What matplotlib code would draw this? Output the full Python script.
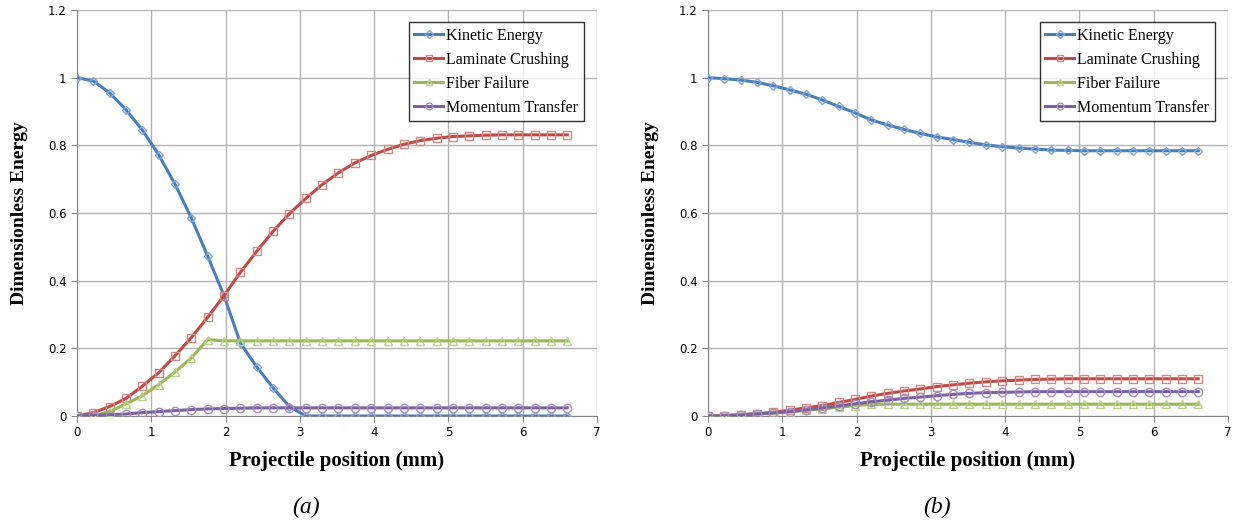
"""Two-panel dimensionless energy plot vs projectile position, (a) and (b)."""

import matplotlib

matplotlib.use("Agg")
import matplotlib.pyplot as plt  # noqa: E402
from matplotlib.ticker import FuncFormatter  # noqa: E402

# projectile positions (mm), 31 samples, 0.22 mm step
position = [0.0, 0.22, 0.44, 0.66, 0.88, 1.1, 1.32, 1.54, 1.76, 1.98, 2.2,
            2.42, 2.64, 2.86, 3.08, 3.3, 3.52, 3.74, 3.96, 4.18, 4.4,
            4.62, 4.84, 5.06, 5.28, 5.5, 5.72, 5.94, 6.16, 6.38, 6.6]

# panel (a)
ke_a = [1.0, 0.99, 0.955, 0.905, 0.845, 0.772, 0.685, 0.585, 0.472, 0.355, 0.215,
        0.145, 0.083, 0.028, 0.0, 0.0, 0.0, 0.0, 0.0, 0.0, 0.0,
        0.0, 0.0, 0.0, 0.0, 0.0, 0.0, 0.0, 0.0, 0.0, 0.0]
lc_a = [0.0, 0.01, 0.028, 0.052, 0.088, 0.128, 0.178, 0.232, 0.292, 0.356, 0.425,
        0.487, 0.546, 0.598, 0.643, 0.684, 0.719, 0.748, 0.77, 0.788, 0.803,
        0.814, 0.821, 0.826, 0.828, 0.83, 0.831, 0.831, 0.831, 0.831, 0.831]
ff_a = [0.0, 0.0, 0.013, 0.036, 0.06, 0.093, 0.13, 0.172, 0.226, 0.222, 0.222,
        0.222, 0.222, 0.222, 0.222, 0.222, 0.222, 0.222, 0.222, 0.222, 0.222,
        0.222, 0.222, 0.222, 0.222, 0.222, 0.222, 0.222, 0.222, 0.222, 0.222]
mt_a = [0.0, 0.002, 0.004, 0.006, 0.01, 0.013, 0.016, 0.019, 0.021, 0.022, 0.023,
        0.024, 0.024, 0.024, 0.024, 0.024, 0.024, 0.024, 0.024, 0.024, 0.024,
        0.024, 0.024, 0.024, 0.024, 0.024, 0.024, 0.024, 0.024, 0.024, 0.024]

# panel (b)
ke_b = [1.0, 0.997, 0.993, 0.986, 0.976, 0.964, 0.951, 0.934, 0.915, 0.896, 0.875,
        0.86, 0.847, 0.835, 0.825, 0.817, 0.809, 0.801, 0.796, 0.792, 0.789,
        0.786, 0.785, 0.784, 0.784, 0.784, 0.784, 0.784, 0.784, 0.784, 0.784]
lc_b = [0.0, 0.001, 0.004, 0.007, 0.011, 0.017, 0.024, 0.031, 0.04, 0.049, 0.059,
        0.067, 0.074, 0.08, 0.087, 0.092, 0.097, 0.101, 0.104, 0.106, 0.108,
        0.109, 0.11, 0.11, 0.11, 0.11, 0.11, 0.11, 0.11, 0.11, 0.11]
ff_b = [0.0, 0.001, 0.003, 0.006, 0.009, 0.012, 0.017, 0.021, 0.026, 0.031, 0.034,
        0.035, 0.035, 0.035, 0.035, 0.035, 0.035, 0.035, 0.035, 0.035, 0.035,
        0.035, 0.035, 0.035, 0.035, 0.035, 0.035, 0.035, 0.035, 0.035, 0.035]
mt_b = [0.0, 0.001, 0.003, 0.006, 0.009, 0.013, 0.018, 0.024, 0.03, 0.036, 0.042,
        0.047, 0.052, 0.056, 0.06, 0.064, 0.067, 0.069, 0.07, 0.071, 0.072,
        0.072, 0.072, 0.072, 0.072, 0.072, 0.072, 0.072, 0.072, 0.072, 0.072]

labels = ["Kinetic Energy", "Laminate Crushing", "Fiber Failure", "Momentum Transfer"]
panels = [("(a)", [ke_a, lc_a, ff_a, mt_a]), ("(b)", [ke_b, lc_b, ff_b, mt_b])]

styles = [
    ("#4A7EBB", "#7FA6D6", "D", 4.5),
    ("#BE4B48", "#D98583", "s", 6),
    ("#98B954", "#B9D28A", "^", 5.5),
    ("#7D60A0", "#A68DC2", "o", 6),
]

SERIF = ["Liberation Serif", "DejaVu Serif"]

fig = plt.figure(figsize=(12.35, 5.25), dpi=100)
lefts = [77 / 1235, 708 / 1235]

for left, (tag, series) in zip(lefts, panels):
    ax = fig.add_axes([left, 109 / 525, 520 / 1235, 406 / 525])
    for vals, name, (lc, mc, mk, ms) in zip(series, labels, styles):
        ax.plot(position, vals, color=lc, lw=2.2, marker=mk, ms=ms,
                mfc="none", mec=mc, mew=1.0, label=name, zorder=3)
    ax.set_xlim(0, 7)
    ax.set_ylim(0, 1.2)
    ax.set_xticks(range(0, 8))
    ax.set_yticks([0, 0.2, 0.4, 0.6, 0.8, 1.0, 1.2])
    ax.yaxis.set_major_formatter(FuncFormatter(lambda v, _: f"{v:g}"))
    ax.grid(True, color="#b3b3b3", lw=1.0)
    ax.set_axisbelow(True)
    for side in ["top", "right"]:
        ax.spines[side].set_visible(False)
    for side in ["left", "bottom"]:
        ax.spines[side].set_color("#868686")
    ax.tick_params(axis="both", labelsize=8.5, color="#868686", length=4, direction="out")
    ax.set_xlabel("Projectile position (mm)", family=SERIF, fontweight="bold",
                  fontsize=15, labelpad=8)
    ax.set_ylabel("Dimensionless Energy", family=SERIF, fontweight="bold",
                  fontsize=14, labelpad=14)
    leg = ax.legend(loc="upper right", bbox_to_anchor=(0.975, 0.97),
                    borderaxespad=0.0,
                    prop={"family": SERIF, "size": 11.5}, frameon=True,
                    fancybox=False, edgecolor="black", handlelength=1.8,
                    handletextpad=0.2, borderpad=0.35, labelspacing=0.5,
                    markerscale=0.8)
    leg.get_frame().set_linewidth(1.0)
    ax.text(0.44, -0.2, tag, transform=ax.transAxes, ha="center", va="top",
            family=SERIF, fontstyle="italic", fontsize=17)

fig.savefig("out.png", dpi=100)
